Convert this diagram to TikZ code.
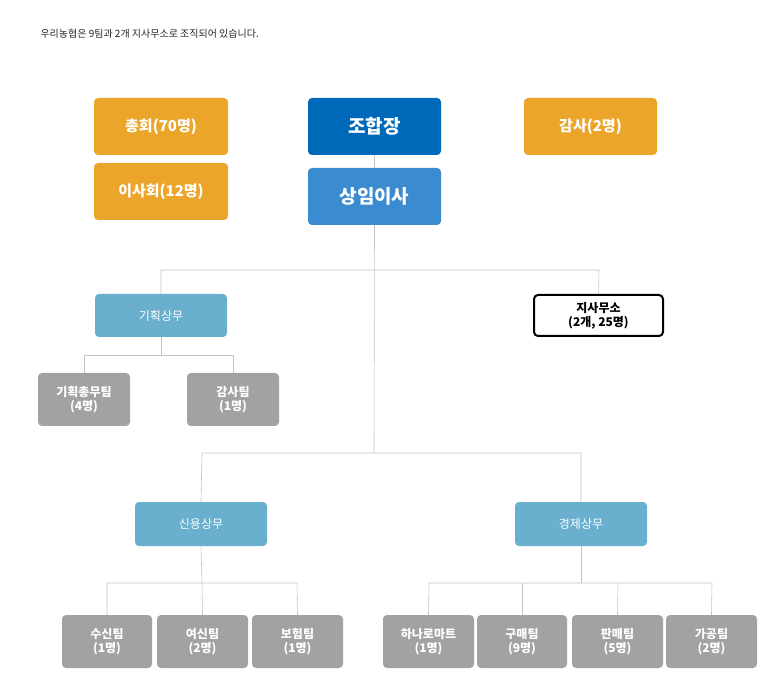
\documentclass[tikz,border=0pt]{standalone}
\usepackage{fontspec}
\setmainfont{Noto Sans CJK KR}
\begin{document}
\begin{tikzpicture}[x=1pt,y=-1pt,
 box/.style={rounded corners=4pt,text=white,align=center,inner sep=0pt},
 org/.style={box,fill=orgc,font=\fontsize{15}{18}\selectfont\bfseries},
 lead/.style={box,font=\fontsize{19}{22}\selectfont\bfseries},
 dept/.style={box,fill=deptc,font=\fontsize{12}{14}\selectfont},
 team/.style={box,fill=teamc,font=\fontsize{12}{14}\selectfont\bfseries},
 ln/.style={draw=linec,line width=0.6pt}]
\definecolor{orgc}{HTML}{EBA52B}
\definecolor{bossc}{HTML}{0068B8}
\definecolor{vicec}{HTML}{3A8BD0}
\definecolor{deptc}{HTML}{6AAFCE}
\definecolor{teamc}{HTML}{A2A2A2}
\definecolor{linec}{HTML}{C4C4C4}
\useasboundingbox (0,0) rectangle (758,700);
\node[anchor=west,font=\fontsize{10}{12}\selectfont,text=black!85] (title) at (37,34) {우리농협은 9팀과 2개 지사무소로 조직되어 있습니다.};
\newcommand{\bx}[6]{\node[#1,minimum width=#4-#3,minimum height=#6-#5] (#2) at ({(#3+#4)/2},{(#5+#6)/2})}
\bx{org}{a}{94}{228}{98}{155} {총회(70명)};
\bx{org}{b}{94}{228}{163}{220} {이사회(12명)};
\bx{org}{c}{524}{657}{98}{155} {감사(2명)};
\bx{lead,fill=bossc}{d}{308}{441}{98}{155} {조합장};
\bx{lead,fill=vicec}{e}{308}{441}{168}{225} {상임이사};
\bx{dept}{f}{95}{227}{294}{337} {기획상무};
\bx{box,draw=black,line width=2pt,text=black,font=\fontsize{12}{14}\selectfont\bfseries}{g}{534}{663}{295}{336} {지사무소\\(2개, 25명)};
\bx{team}{h}{38}{130}{373}{426} {기획총무팀\\(4명)};
\bx{team}{i}{187}{279}{373}{426} {감사팀\\(1명)};
\bx{dept}{j}{135}{267}{502}{546} {신용상무};
\bx{dept}{k}{515}{647}{502}{546} {경제상무};
\bx{team}{t1}{62}{152}{615}{668} {수신팀\\(1명)};
\bx{team}{t2}{157}{248}{615}{668} {여신팀\\(2명)};
\bx{team}{t3}{252}{343}{615}{668} {보험팀\\(1명)};
\bx{team}{t4}{383}{474}{615}{668} {하나로마트\\(1명)};
\bx{team}{t5}{477}{567}{615}{668} {구매팀\\(9명)};
\bx{team}{t6}{572}{663}{615}{668} {판매팀\\(5명)};
\bx{team}{t7}{666}{757}{615}{668} {가공팀\\(2명)};
\draw[ln] (d.south) -- (e.north);
\draw[ln] (e.south) -- (374,453);
\draw[ln] (f.north) -- (161,270) -- (599,270) -- (g.north);
\draw[ln] (f.south) -- (161,355);
\draw[ln] (h.north) -- (84,355) -- (233,355) -- (i.north);
\draw[ln] (j.north) -- (202,453) -- (581,453) -- (k.north);
\draw[ln] (j.south) -- (202,583);
\draw[ln] (t1.north) -- (107,583) -- (297,583) -- (t3.north);
\draw[ln] (t2.north) -- (202,583);
\draw[ln] (k.south) -- (581,583);
\draw[ln] (t4.north) -- (429,583) -- (712,583) -- (t7.north);
\draw[ln] (t5.north) -- (522,583);
\draw[ln] (t6.north) -- (618,583);
\end{tikzpicture}
\end{document}
